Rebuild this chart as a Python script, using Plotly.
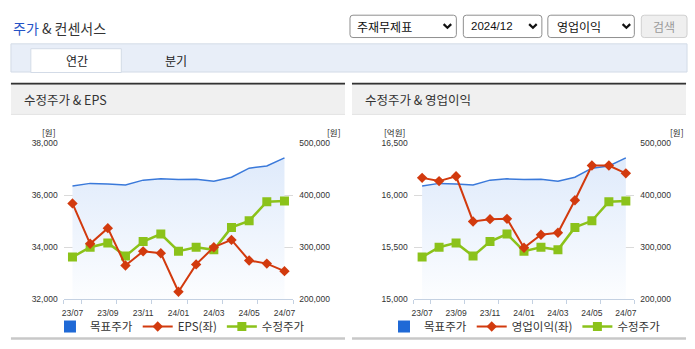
import plotly.graph_objects as go

# ---------------- data ----------------
months = ['23/07', '23/08', '23/09', '23/10', '23/11', '23/12', '24/01',
          '24/02', '24/03', '24/04', '24/05', '24/06', '24/07']
target_price = [417400, 422400, 421100, 419300, 428600, 431100, 429800,
                430400, 426700, 434200, 451600, 455900, 471400]
adj_price = [281000, 300000, 308200, 282900, 310800, 325300, 292400,
             300000, 294900, 338000, 350600, 387300, 388600]
eps = [35680, 34130, 34730, 33300, 33840, 33770, 32290,
       33340, 34000, 34280, 33490, 33370, 33080]
op_income = [16165, 16134, 16180, 15747, 15769, 15772, 15494,
             15620, 15639, 15950, 16283, 16283, 16208]

price_range = [200000, 500000]
eps_range = [32000, 38000]
op_range = [15000, 16500]

W, H = 695, 349
def px(x): return x / W
def py(y): return 1 - y / H

BLUE = '#3a79da'
BLUE_LEG = '#1f69d6'
RED = '#d23a0e'
GREEN = '#8bc21a'
FONT = 'Liberation Sans, Arial, sans-serif'
KFONT = 'Noto Sans CJK KR, Noto Sans, sans-serif'

x = list(range(len(months)))
tickvals = x[::2]
ticktext = months[::2]
minor_vals = [-0.5] + [i + 0.5 for i in range(0, len(months), 2)]

fig = go.Figure()

def add_panel(xa, ya_price, ya_left, left_vals, left_name, legend):
    base = [price_range[0]] * len(x)
    fig.add_trace(go.Scatter(x=x, y=base, xaxis=xa, yaxis=ya_price, mode='lines',
                             line=dict(width=0, color='rgba(0,0,0,0)'),
                             showlegend=False, hoverinfo='skip'))
    fig.add_trace(go.Scatter(x=x, y=target_price, xaxis=xa, yaxis=ya_price, mode='lines',
                             line=dict(color=BLUE, width=1.5), fill='tonexty',
                             fillgradient=dict(type='vertical',
                                               colorscale=[[0, '#fdfeff'], [1, '#e0ebfb']],
                                               start=price_range[0], stop=460000),
                             showlegend=False, legend=legend))
    fig.add_trace(go.Scatter(x=[None], y=[None], xaxis=xa, yaxis=ya_price, mode='markers',
                             marker=dict(symbol='square', size=12, color=BLUE_LEG),
                             name='목표주가', legend=legend, legendrank=1))
    fig.add_trace(go.Scatter(x=x, y=adj_price, xaxis=xa, yaxis=ya_price, mode='lines+markers',
                             line=dict(color=GREEN, width=2.5),
                             marker=dict(symbol='square', size=9, color=GREEN),
                             name='수정주가', legend=legend, legendrank=3))
    fig.add_trace(go.Scatter(x=x, y=left_vals, xaxis=xa, yaxis=ya_left, mode='lines+markers',
                             line=dict(color=RED, width=2),
                             marker=dict(symbol='diamond', size=8, color=RED),
                             name=left_name, legend=legend, legendrank=2))

# price axes are the base layers (y, y3); left-value axes overlay them so red lines sit on top
add_panel('x', 'y', 'y2', eps, 'EPS(좌)', 'legend')
add_panel('x2', 'y3', 'y4', op_income, '영업이익(좌)', 'legend2')

ydom = [py(303), py(142)]
xcommon = dict(range=[-0.5, len(months) - 0.5], tickmode='array', tickvals=tickvals,
               ticktext=ticktext, ticks='', showgrid=False, zeroline=False,
               showline=True, linecolor='#c4d1e2', linewidth=1,
               tickfont=dict(family=FONT, size=8.5, color='#333'),
               ticklabelstandoff=5,
               minor=dict(tickmode='array', tickvals=minor_vals, ticks='outside',
                          ticklen=4, tickcolor='#c4d1e2', showgrid=False),
               fixedrange=True)
ycommon = dict(showline=False, zeroline=False, ticks='',
               tickfont=dict(family=FONT, size=8.5, color='#333'),
               tickformat=',', fixedrange=True, ticklabelstandoff=5)

fig.update_layout(
    xaxis=dict(domain=[px(62), px(293)], anchor='y', **xcommon),
    xaxis2=dict(domain=[px(414), px(636)], anchor='y3', **xcommon),
    yaxis=dict(domain=ydom, anchor='x', side='right', range=price_range,
               dtick=100000, showgrid=True, gridcolor='#dadada', **ycommon),
    yaxis2=dict(domain=ydom, anchor='x', overlaying='y', side='left', range=eps_range,
                dtick=2000, showgrid=False, **ycommon),
    yaxis3=dict(domain=ydom, anchor='x2', side='right', range=price_range,
                dtick=100000, showgrid=True, gridcolor='#dadada', **ycommon),
    yaxis4=dict(domain=ydom, anchor='x2', overlaying='y3', side='left', range=op_range,
                dtick=500, showgrid=False, **ycommon),
)

legcommon = dict(orientation='h', xanchor='center', yanchor='middle', y=py(331),
                 font=dict(family=KFONT, size=11.5, color='#333'),
                 bgcolor='rgba(0,0,0,0)', itemclick=False, itemdoubleclick=False,
                 traceorder='normal', tracegroupgap=0, borderwidth=0)
fig.update_layout(
    legend=dict(x=px(179), **legcommon),
    legend2=dict(x=px(526), **legcommon),
)

shapes = []
annotations = []

def rect(x0, y0, x1, y1, fill=None, line=None, lw=1):
    shapes.append(dict(type='rect', xref='paper', yref='paper',
                       x0=px(x0), x1=px(x1), y0=py(y1), y1=py(y0),
                       fillcolor=fill or 'rgba(0,0,0,0)',
                       line=dict(color=line or 'rgba(0,0,0,0)', width=lw if line else 0),
                       layer='below'))

def rrect(x0, y0, x1, y1, r, fill, line):
    P = lambda a, b: f"{px(a):.5f},{py(b):.5f}"
    path = (f"M {P(x0 + r, y0)} L {P(x1 - r, y0)} Q {P(x1, y0)} {P(x1, y0 + r)} "
            f"L {P(x1, y1 - r)} Q {P(x1, y1)} {P(x1 - r, y1)} L {P(x0 + r, y1)} "
            f"Q {P(x0, y1)} {P(x0, y1 - r)} L {P(x0, y0 + r)} Q {P(x0, y0)} {P(x0 + r, y0)} Z")
    shapes.append(dict(type='path', xref='paper', yref='paper', path=path,
                       fillcolor=fill, line=dict(color=line, width=1), layer='below'))

def chevron(cx, cy):
    path = f"M {px(cx - 3.8)},{py(cy - 1.8)} L {px(cx)},{py(cy + 2)} L {px(cx + 3.8)},{py(cy - 1.8)}"
    shapes.append(dict(type='path', xref='paper', yref='paper', path=path,
                       line=dict(color='#111', width=2.2)))

def text(x0, y0, s, size=12, color='#333', xanchor='left', family=KFONT):
    annotations.append(dict(xref='paper', yref='paper', x=px(x0), y=py(y0), text=s,
                            showarrow=False, xanchor=xanchor, yanchor='middle',
                            font=dict(family=family, size=size, color=color)))

# header
text(9, 24, "<span style='color:#2553c6'>주가</span> & 컨센서스", size=14, color='#333')
rrect(350, 10.5, 457, 33.5, 3, 'white', '#8f8f8f')
text(355, 22, '주재무제표', size=12, color='#111')
chevron(448, 21.5)
rrect(464, 10.5, 543, 33.5, 3, 'white', '#8f8f8f')
text(470, 22, '2024/12', size=11.5, color='#111', family=FONT)
chevron(534, 21.5)
rrect(549, 10.5, 636, 33.5, 3, 'white', '#8f8f8f')
text(556, 22, '영업이익', size=12, color='#111')
chevron(628, 21.5)
rrect(643, 10.5, 689, 33.5, 3, '#efefef', '#d0d0d0')
text(666, 22, '검색', size=12, color='#9a9a9a', xanchor='center')

# tabs
rect(9, 40, 689, 69, fill='#e8eef8', line='#d3dbe7')
rect(29, 45, 120, 69.5, fill='white', line='#d3dbe7')
text(75, 57, '연간', size=12, color='#222', xanchor='center')
text(175, 57, '분기', size=12, color='#222', xanchor='center')

# panels
for (a, b, title) in [(9, 345, '수정주가 & EPS'), (352, 688, '수정주가 & 영업이익')]:
    rect(a, 80, b, 82, fill='#333333')
    rect(a, 82, b, 112, fill='#f0f0f0')
    rect(a, 112, b, 113, fill='#dddddd')
    rect(a, 342, b, 344.5, fill='#c8c8c8')
    text(a + 11, 97.5, title, size=12.5, color='#333')

# unit labels
text(47, 131, '[원]', size=8.5, color='#222', xanchor='center')
text(334, 131, '[원]', size=8.5, color='#222', xanchor='center')
text(395, 131, '[억원]', size=8.5, color='#222', xanchor='center')
text(679, 131, '[원]', size=8.5, color='#222', xanchor='center')

fig.update_layout(shapes=shapes, annotations=annotations,
                  width=W, height=H, autosize=False,
                  margin=dict(l=0, r=0, t=0, b=0),
                  paper_bgcolor='white', plot_bgcolor='rgba(0,0,0,0)',
                  hovermode=False, showlegend=True)

fig.write_html('out.html', config={'displayModeBar': False, 'responsive': False})
